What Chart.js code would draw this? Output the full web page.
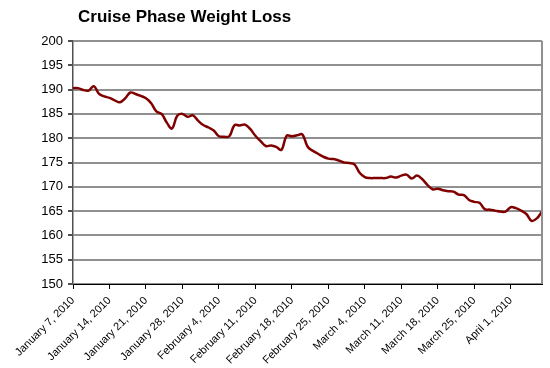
<!DOCTYPE html>
<html>
<head>
<meta charset="utf-8">
<script src="https://cdn.jsdelivr.net/npm/chart.js@4"></script>
<style>
  html, body { margin: 0; padding: 0; background: #fff; }
  #wrap { width: 550px; height: 368px; position: relative; }
</style>
</head>
<body>
<div id="wrap"><canvas id="c"></canvas></div>
<script>
// datos: un peso por día desde el 7 de enero de 2010
const TITLE = "Cruise Phase Weight Loss";
const weekLabels = [
  "January 7, 2010", "January 14, 2010", "January 21, 2010", "January 28, 2010",
  "February 4, 2010", "February 11, 2010", "February 18, 2010", "February 25, 2010",
  "March 4, 2010", "March 11, 2010", "March 18, 2010", "March 25, 2010", "April 1, 2010"
];
const weights = [
  190.3, 190.3, 189.9, 189.8, 190.7, 189.1, 188.6, 188.3, 187.8, 187.4,
  188.2, 189.4, 189.1, 188.7, 188.2, 187.2, 185.5, 185.0, 183.2, 182.0,
  184.6, 185.0, 184.4, 184.7, 183.6, 182.7, 182.2, 181.6, 180.4, 180.3,
  180.4, 182.7, 182.6, 182.8, 181.9, 180.5, 179.4, 178.4, 178.5, 178.2,
  177.6, 180.5, 180.4, 180.6, 180.8, 178.3, 177.4, 176.8, 176.2, 175.8,
  175.7, 175.4, 175.0, 174.9, 174.6, 172.9, 172.0, 171.8, 171.8, 171.8,
  171.8, 172.1, 171.9, 172.3, 172.5, 171.7, 172.3, 171.6, 170.4, 169.5,
  169.6, 169.3, 169.1, 169.0, 168.4, 168.3, 167.3, 166.9, 166.7, 165.4,
  165.3, 165.1, 164.9, 164.9, 165.8, 165.6, 165.1, 164.4, 163.0, 163.5,
  164.9
];
const yMin = 150, yMax = 200, yStep = 5;

const FONT = "'Liberation Sans', Arial, sans-serif";

// título y borde derecho del área de trazado, como en Excel
const frame = {
  id: "frame",
  afterDraw(chart) {
    const { ctx, chartArea: a } = chart;
    ctx.save();
    ctx.strokeStyle = "#909090";
    ctx.lineWidth = 2;
    ctx.beginPath();
    ctx.moveTo(a.right, a.top);
    ctx.lineTo(a.right, a.bottom);
    ctx.stroke();
    ctx.fillStyle = "#000";
    ctx.font = "bold 17px " + FONT;
    ctx.textBaseline = "middle";
    ctx.fillText(TITLE, a.left + 5, 17);
    ctx.restore();
  }
};

new Chart(document.getElementById("c"), {
  type: "line",
  data: {
    datasets: [{
      data: weights.map((w, i) => ({ x: i, y: w })),
      borderColor: "#800000",
      borderWidth: 2.5,
      tension: 0.4,
      pointRadius: 0,
      fill: false
    }]
  },
  options: {
    responsive: true, maintainAspectRatio: false, animation: false,
    layout: { padding: { top: 41, right: 8, left: 0, bottom: 0 } },
    plugins: { legend: { display: false }, tooltip: { enabled: false } },
    scales: {
      x: {
        type: "linear", min: 0, max: weights.length - 1,
        afterFit: (s) => { s.height = 84; },
        border: { color: "#000", width: 1 },
        grid: { drawOnChartArea: false, color: "#000", tickLength: 5 },
        ticks: {
          stepSize: 7, includeBounds: false, autoSkip: false,
          maxRotation: 45, minRotation: 45, padding: 5,
          color: "#000", font: { family: FONT, size: 11 },
          callback: (v) => weekLabels[v / 7] ?? ""
        }
      },
      y: {
        min: yMin, max: yMax,
        afterFit: (s) => { s.width = 73; },
        border: { color: "#505050", width: 1.5 },
        grid: { color: "#909090", lineWidth: 2, tickColor: "#505050", tickLength: 5 },
        ticks: { stepSize: yStep, padding: 5, color: "#000", font: { family: FONT, size: 13 } }
      }
    }
  },
  plugins: [frame]
});
</script>
</body>
</html>
